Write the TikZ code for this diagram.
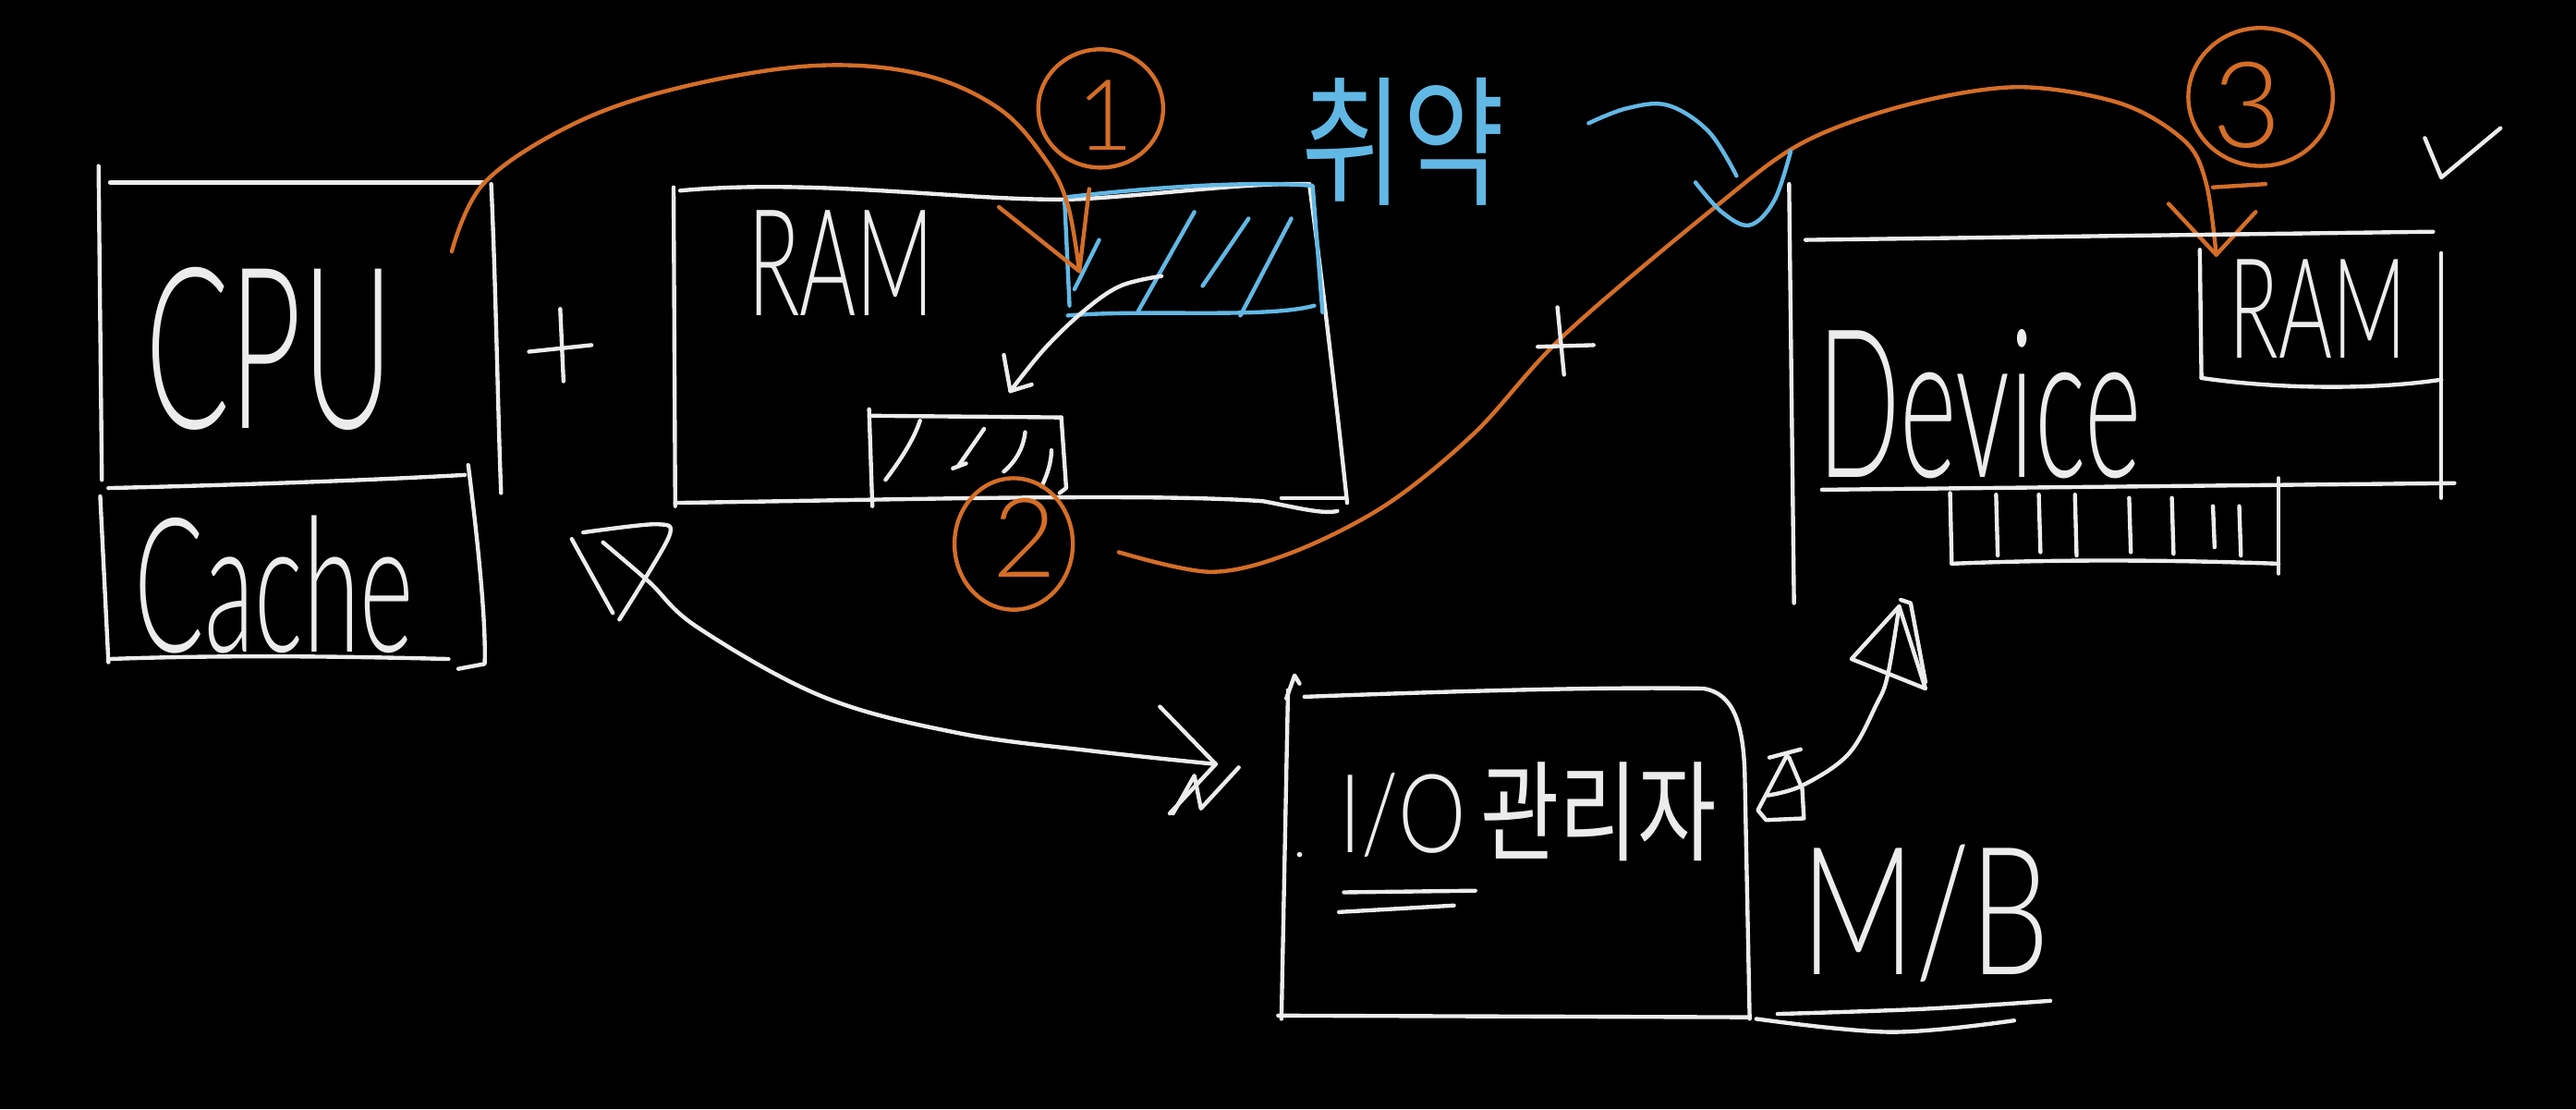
\documentclass[tikz,border=0pt]{standalone}
\usepackage{graphicx}
\usepackage{fontspec}
\newfontfamily\lat{Lato Light}
\newfontfamily\cjk{Noto Sans CJK KR}
\definecolor{wht}{RGB}{236,236,236}
\definecolor{org}{RGB}{212,110,40}
\definecolor{blu}{RGB}{98,184,228}
\begin{document}
\begin{tikzpicture}[x=0.2mm,y=-0.2mm,
  wl/.style={draw=wht,line width=1.4pt,line cap=round,line join=round},
  ol/.style={draw=org,line width=1.4pt,line cap=round,line join=round},
  bl/.style={draw=blu,line width=1.4pt,line cap=round,line join=round},
  wt/.style={inner sep=0pt,outer sep=0pt,text=wht},
  ot/.style={inner sep=0pt,outer sep=0pt,text=org},
  btx/.style={inner sep=0pt,outer sep=0pt,text=blu}]
\useasboundingbox (0,0) rectangle (1568,675);
\fill[black] (0,0) rectangle (1568,675);

% ---------- CPU / Cache ----------
\draw[wl] (60,101) -- (62,292);
\draw[wl] (67,111) -- (295,111);
\draw[wl] (299,112) .. controls (302,180) and (303,250) .. (305,300);
\draw[wl] (66,297) .. controls (150,295) and (230,292) .. (283,289);
\draw[wl] (61,302) -- (66,403);
\draw[wl] (67,401) .. controls (150,398) and (230,400) .. (273,401);
\draw[wl] (285,283) .. controls (291,330) and (296,380) .. (295,404) -- (279,407);
\node[wt] (cpu) at (164,212) {\resizebox{30.2mm}{19.6mm}{\lat CPU}};
\node[wt] (cache) at (167,356) {\resizebox{34mm}{16.6mm}{\lat Cache}};

% plus
\draw[wl] (341,188) -- (343,232);
\draw[wl] (322,214) -- (360,210);

% ---------- RAM ----------
\draw[wl] (410,114) -- (411,308);
\draw[wl] (414,116) .. controls (500,108) and (600,124) .. (660,121) .. controls (710,118) and (760,111) .. (797,112);
\draw[wl] (797,112) .. controls (806,180) and (814,250) .. (820,306);
\draw[wl] (411,306) .. controls (550,304) and (700,300) .. (769,305) .. controls (790,309) and (805,313) .. (814,311);
\draw[wl] (780,303) -- (818,303);
\node[wt] (ram1) at (512,160) {\resizebox{22.8mm}{12.8mm}{\lat RAM}};

% blue buffer
\draw[bl] (649,120) .. controls (700,114) and (760,110) .. (799,113) -- (805,190);
\draw[bl] (648,122) -- (651,186);
\draw[bl] (650,192) .. controls (700,188) and (770,194) .. (800,186);
\draw[bl] (654,176) -- (669,146);
\draw[bl] (693,189) -- (727,129);
\draw[bl] (732,174) -- (760,133);
\draw[bl] (755,192) -- (786,133);

% white arrow inside RAM
\coordinate (bufA) at (707,168);
\coordinate (bufB) at (615,238);
\draw[wl] plot[smooth,tension=0.6] coordinates {(bufA) (682,174) (660,189) (636,212) (bufB)};
\draw[wl] (611,216) -- (bufB) -- (628,234);

% small buffer
\draw[wl] (529,249) -- (531,308);
\draw[wl] (531,253) -- (646,254);
\draw[wl] (646,254) -- (649,297) -- (645,300);
\draw[wl] (539,292) .. controls (548,280) and (556,268) .. (560,256);
\draw[wl] (583,284) -- (599,261);
\draw[wl] (580,285) -- (588,282);
\draw[wl] (611,287) .. controls (619,280) and (623,272) .. (624,263);
\draw[wl] (634,296) .. controls (638,288) and (640,280) .. (640,274);

% ---------- orange path 1 ----------
\coordinate (cpuout) at (275,153);
\coordinate (buf1in) at (657,165);
\draw[ol] plot[smooth,tension=0.6] coordinates {(cpuout) (295,111) (350,75) (415,53) (495,40) (560,45) (608,66) (637,98) (650,125) (buf1in)};
\draw[ol] (608,126) -- (buf1in) -- (663,115);
\draw[ol] (670,66) ellipse [x radius=38, y radius=36];
\node[ot] (n1) at (673,70) {\resizebox{!}{8.5mm}{\lat 1}};

% ---------- orange 2 ----------
\draw[ol] (617,331) ellipse [x radius=36, y radius=40];
\node[ot] (n2) at (624,327) {\resizebox{!}{9.6mm}{\lat 2}};

\coordinate (p2s) at (681,336);
\coordinate (p2e) at (1349,155);
\draw[ol] plot[smooth,tension=0.55] coordinates {(p2s) (737,348) (787,336) (844,307) (898,263) (952,204) (1044,126) (1097,87) (1160,64) (1228,53) (1291,63) (1330,86) (1343,112) (p2e)};
\draw[ol] (1320,124) -- (p2e) -- (1373,129);
\draw[ol] (1347,114) -- (1379,112);
\draw[ol] (1376,59) ellipse [x radius=44, y radius=42];
\node[ot] (n3) at (1368,64) {\resizebox{!}{10.4mm}{\lat 3}};

% white plus on orange path
\draw[wl] (948,187) -- (952,228);
\draw[wl] (936,211) -- (970,210);

% ---------- blue note ----------
\node[btx] (note) at (854,86) {\resizebox{24.8mm}{14.2mm}{\cjk 취약}};
\draw[bl] plot[smooth,tension=0.6] coordinates {(967,75) (990,66) (1015,64) (1040,80) (1057,107)};
\draw[bl] plot[smooth,tension=0.6] coordinates {(1032,111) (1048,129) (1065,137) (1080,122) (1090,92)};

% ---------- Device ----------
\draw[wl] (1089,112) -- (1092,367);
\draw[wl] (1099,146) -- (1481,141);
\draw[wl] (1486,154) -- (1486,303);
\draw[wl] (1109,298) -- (1494,294);
\draw[wl] (1339,152) -- (1340,230);
\draw[wl] (1340,230) .. controls (1380,236) and (1440,238) .. (1486,231);
\node[wt] (ram2) at (1411,188) {\resizebox{21.6mm}{12mm}{\lat RAM}};
\node[wt] (dev) at (1205,246) {\resizebox{39.4mm}{18mm}{\lat Device}};
% device buffer
\draw[wl] (1187,300) -- (1188,343);
\draw[wl] (1188,343) .. controls (1260,340) and (1330,341) .. (1387,343);
\draw[wl] (1387,291) -- (1387,349);
\foreach \xx/\ya/\yb in {1215/301/338, 1241/301/336, 1263/301/338, 1296/303/336, 1322/303/337, 1347/308/333, 1363/308/338}
  \draw[wl] (\xx,\ya) -- (\xx+1,\yb);
% check mark
\draw[wl] (1476,84) -- (1486,108) -- (1522,78);

% ---------- Cache <-> I/O arrow ----------
\coordinate (arrS) at (367,330);
\coordinate (arrE) at (740,465);
\draw[wl] plot[smooth,tension=0.6] coordinates {(arrS) (395,354) (425,382) (501,424) (583,446) (665,457) (arrE)};
\draw[wl] (348,328) -- (373,373);
\draw[wl] plot[smooth,tension=0.5] coordinates {(355,324) (400,319) (407,327) (377,377)};
\draw[wl] (706,430) -- (arrE) -- (712,495);
\draw[wl] (714,495) -- (727,472) -- (731,492) -- (754,467);

% ---------- I/O manager ----------
\draw[wl] (783,425) -- (788,411) -- (791,416);
\draw[wl] (784,420) -- (780,620);
\draw[wl] (794,424) .. controls (900,420) and (980,418) .. (1037,419) .. controls (1055,422) and (1061,440) .. (1062,470) -- (1065,620);
\draw[wl] (778,618) -- (1064,619);
\node[wt] (io) at (930,494) {\resizebox{46mm}{11mm}{{\lat I/O}\,{\cjk 관리자}}};
\draw[wl] (818,543) -- (898,542);
\draw[wl] (815,555) -- (885,551);
\fill[wht] (791,520) circle [radius=1.6];

% I/O -> Device arrow
\coordinate (ioS) at (1076,484);
\coordinate (devE) at (1156,369);
\draw[wl] plot[smooth,tension=0.6] coordinates {(ioS) (1097,478) (1125,459) (1142,429) (1149,411) (devE)};
\draw[wl] (1088,459) -- (1070,493) -- (1075,499) -- (1098,498) -- (1097,480) -- (1089,461);
\draw[wl] (1077,461) -- (1096,456);
\draw[wl] (1127,401) -- (devE) -- (1172,419) -- cycle;
\draw[wl] (1157,365) -- (1163,367) -- (1172,415);

% ---------- M/B ----------
\node[wt] (mb) at (1172,556) {\resizebox{30.2mm}{15.8mm}{\lat M/B}};
\draw[wl] plot[smooth,tension=0.6] coordinates {(1082,617) (1170,614) (1248,609)};
\draw[wl] plot[smooth,tension=0.6] coordinates {(1069,620) (1151,628) (1226,621)};
\end{tikzpicture}
\end{document}
